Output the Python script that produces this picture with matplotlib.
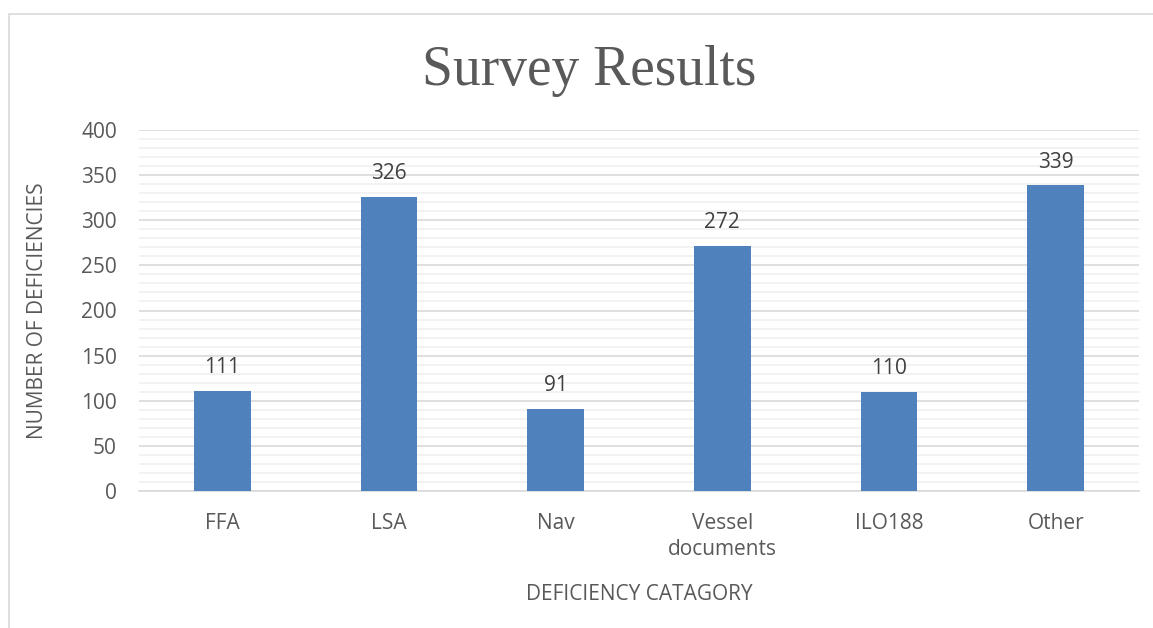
import matplotlib.pyplot as plt
import numpy as np
from matplotlib.patches import Rectangle

categories = ['FFA', 'LSA', 'Nav', 'Vessel\ndocuments', 'ILO188', 'Other']
counts = [111, 326, 91, 272, 110, 339]
yticks = [0, 50, 100, 150, 200, 250, 300, 350, 400]

plt.rcParams['font.family'] = ['Open Sans', 'DejaVu Sans']

fig = plt.figure(figsize=(11.53, 6.28), dpi=100)
ax = fig.add_axes([139 / 1153, 1 - 491 / 628, 1000 / 1153, 361 / 628])

# chart frame like the office export
fig.patches.append(Rectangle((9 / 1153, -0.05), 1.1, 1 - 14 / 628 + 0.05,
                             transform=fig.transFigure, fill=False,
                             edgecolor='#d9d9d9', linewidth=1.2))

x = np.arange(len(categories))
ax.bar(x, counts, width=0.34, color='#4f81bd', zorder=3)
for xi, v in zip(x, counts):
    ax.annotate(str(v), (xi, v), xytext=(0, 9), textcoords='offset points',
                ha='center', va='bottom', fontsize=15, color='#404040')

ax.set_xlim(-0.5, len(categories) - 0.5)
ax.set_ylim(0, 400)
ax.set_yticks(yticks)
ax.set_yticks(np.arange(0, 401, 10), minor=True)
ax.grid(axis='y', which='major', color='#d9d9d9', linewidth=1.2, zorder=0)
ax.grid(axis='y', which='minor', color='#f0f0f0', linewidth=1.2, zorder=0)
ax.set_xticks(x)
ax.set_xticklabels(categories, fontsize=15, color='#595959', linespacing=1.3)
ax.tick_params(axis='y', labelsize=15, labelcolor='#595959', length=0, pad=16)
ax.tick_params(axis='y', which='minor', length=0)
ax.tick_params(axis='x', length=0, pad=16)
for s in ['top', 'right', 'left']:
    ax.spines[s].set_visible(False)
ax.spines['bottom'].set_color('#d9d9d9')
ax.spines['bottom'].set_linewidth(1.2)

ax.set_ylabel('NUMBER OF DEFICIENCIES', fontsize=15, color='#595959', labelpad=24)
ax.set_xlabel('DEFICIENCY CATAGORY', fontsize=15, color='#595959', labelpad=17)

fig.text(589 / 1153, 1 - 71 / 628, 'Survey Results', ha='center', va='center',
         fontsize=40, color='#595959', family='Liberation Serif')

plt.savefig('out.png', dpi=100)
